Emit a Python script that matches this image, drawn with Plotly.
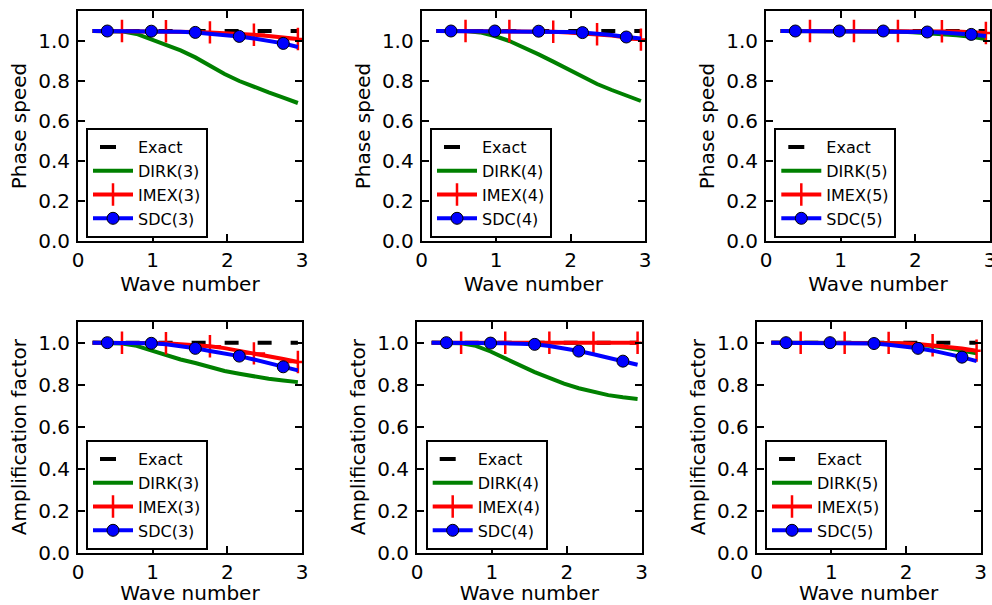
import plotly.graph_objects as go

# ---------------- data ----------------
wave_number = [0.196, 0.393, 0.589, 0.785, 0.982, 1.178, 1.374, 1.571,
               1.767, 1.963, 2.160, 2.356, 2.553, 2.749, 2.945]

exact_phase = [1.05] * 15
exact_amp = [1.0] * 15

dirk3_phase = [1.05, 1.05, 1.048, 1.035, 1.008, 0.98, 0.953, 0.918, 0.875, 0.835, 0.80, 0.77, 0.743, 0.717, 0.69]
imex3_phase = [1.05, 1.05, 1.05, 1.05, 1.05, 1.049, 1.047, 1.045, 1.043, 1.04, 1.036, 1.031, 1.025, 1.018, 1.01]
sdc3_phase = [1.05, 1.05, 1.05, 1.05, 1.049, 1.048, 1.046, 1.043, 1.038, 1.031, 1.023, 1.013, 1.001, 0.988, 0.97]

dirk4_phase = [1.05, 1.05, 1.05, 1.043, 1.025, 1.0, 0.968, 0.933, 0.897, 0.858, 0.82, 0.785, 0.755, 0.728, 0.70]
imex4_phase = [1.05, 1.05, 1.05, 1.05, 1.05, 1.05, 1.049, 1.048, 1.046, 1.043, 1.039, 1.034, 1.027, 1.018, 1.007]
sdc4_phase = [1.05, 1.05, 1.05, 1.05, 1.05, 1.05, 1.05, 1.049, 1.047, 1.045, 1.042, 1.037, 1.03, 1.02, 1.012]

dirk5_phase = [1.05, 1.05, 1.05, 1.05, 1.05, 1.05, 1.05, 1.049, 1.047, 1.044, 1.04, 1.035, 1.029, 1.021, 1.01]
imex5_phase = [1.05, 1.05, 1.05, 1.05, 1.05, 1.05, 1.05, 1.05, 1.05, 1.05, 1.05, 1.049, 1.047, 1.044, 1.04]
sdc5_phase = [1.05, 1.05, 1.05, 1.05, 1.05, 1.05, 1.05, 1.05, 1.049, 1.047, 1.045, 1.042, 1.038, 1.033, 1.025]

dirk3_amp = [1.0, 1.0, 0.996, 0.985, 0.962, 0.94, 0.92, 0.903, 0.882, 0.865, 0.852, 0.838, 0.828, 0.82, 0.812]
imex3_amp = [1.0, 1.0, 1.0, 1.0, 0.999, 0.997, 0.992, 0.988, 0.983, 0.974, 0.962, 0.949, 0.936, 0.922, 0.908]
sdc3_amp = [1.0, 1.0, 1.0, 0.999, 0.997, 0.992, 0.984, 0.973, 0.96, 0.949, 0.936, 0.92, 0.903, 0.885, 0.868]

dirk4_amp = [1.0, 1.0, 0.997, 0.985, 0.958, 0.925, 0.89, 0.86, 0.832, 0.805, 0.783, 0.765, 0.75, 0.74, 0.732]
imex4_amp = [1.0] * 15
sdc4_amp = [1.0, 1.0, 1.0, 1.0, 0.998, 0.997, 0.995, 0.992, 0.984, 0.973, 0.96, 0.945, 0.929, 0.912, 0.895]

dirk5_amp = [1.0, 1.0, 1.0, 1.0, 1.0, 1.0, 0.999, 0.999, 0.998, 0.995, 0.99, 0.984, 0.975, 0.963, 0.95]
imex5_amp = [1.0, 1.0, 1.0, 1.0, 1.0, 1.0, 1.0, 1.0, 0.999, 0.997, 0.994, 0.988, 0.981, 0.972, 0.962]
sdc5_amp = [1.0, 1.0, 1.0, 1.0, 1.0, 0.999, 0.998, 0.996, 0.99, 0.983, 0.973, 0.962, 0.948, 0.931, 0.912]

x_ticks = [0, 1, 2, 3]
y_ticks = [0.0, 0.2, 0.4, 0.6, 0.8, 1.0]
y_tick_labels = ["0.0", "0.2", "0.4", "0.6", "0.8", "1.0"]

panels = [
    ("Phase speed", exact_phase, dirk3_phase, imex3_phase, sdc3_phase, 3),
    ("Phase speed", exact_phase, dirk4_phase, imex4_phase, sdc4_phase, 4),
    ("Phase speed", exact_phase, dirk5_phase, imex5_phase, sdc5_phase, 5),
    ("Amplification factor", exact_amp, dirk3_amp, imex3_amp, sdc3_amp, 3),
    ("Amplification factor", exact_amp, dirk4_amp, imex4_amp, sdc4_amp, 4),
    ("Amplification factor", exact_amp, dirk5_amp, imex5_amp, sdc5_amp, 5),
]

# ---------------- layout (pixel geometry) ----------------
W, H = 992, 605
x_pix = [(78, 302), (421.7, 645), (766, 990), (78, 302), (417, 641.7), (756.7, 980.7)]
y_pix = [(11, 241), (11, 241), (11, 241), (321.7, 552.5), (321.7, 552.5), (321.7, 552.5)]
y_max = [1.15, 1.15, 1.15, 1.1, 1.1, 1.1]
legend_pix = [(86, 128), (430, 128), (774.3, 128), (86, 440), (425.7, 440), (765, 440)]

FONT = "DejaVu Sans"
GREEN = "#008000"
RED = "#ff0000"
BLUE = "#0000ff"

fig = go.Figure()
layout_updates = {}

for i, (ylabel, exact, dirk, imex, sdc, order) in enumerate(panels):
    n = i + 1
    xa = "x" if n == 1 else f"x{n}"
    ya = "y" if n == 1 else f"y{n}"
    leg = "legend" if n == 1 else f"legend{n}"

    common = dict(xaxis=xa, yaxis=ya, showlegend=False, hoverinfo="skip")
    fig.add_trace(go.Scatter(x=wave_number, y=exact, mode="lines",
                             line=dict(color="black", width=4, dash="14px,19px"), **common))
    fig.add_trace(go.Scatter(x=wave_number, y=dirk, mode="lines",
                             line=dict(color=GREEN, width=4), **common))
    fig.add_trace(go.Scatter(x=wave_number, y=imex, mode="lines",
                             line=dict(color=RED, width=4), **common))
    fig.add_trace(go.Scatter(x=wave_number[2::3], y=imex[2::3], mode="markers",
                             marker=dict(symbol="cross-thin", size=16, color=RED,
                                         line=dict(color=RED, width=2.5)), **common))
    fig.add_trace(go.Scatter(x=wave_number, y=sdc, mode="lines",
                             line=dict(color=BLUE, width=4), **common))
    fig.add_trace(go.Scatter(x=wave_number[1::3], y=sdc[1::3], mode="markers",
                             marker=dict(symbol="circle", size=12, color=BLUE,
                                         line=dict(color="black", width=1)), **common))

    # legend-only entries
    lcommon = dict(x=[None], y=[None], xaxis=xa, yaxis=ya, legend=leg, showlegend=True)
    fig.add_trace(go.Scatter(name="Exact", mode="lines",
                             line=dict(color="black", width=4, dash="0px,7px,16px,100px"), **lcommon))
    fig.add_trace(go.Scatter(name=f"DIRK({order})", mode="lines",
                             line=dict(color=GREEN, width=4), **lcommon))
    fig.add_trace(go.Scatter(name=f"IMEX({order})", mode="lines+markers",
                             line=dict(color=RED, width=4),
                             marker=dict(symbol="cross-thin", size=16, color=RED,
                                         line=dict(color=RED, width=2.5)), **lcommon))
    fig.add_trace(go.Scatter(name=f"SDC({order})", mode="lines+markers",
                             line=dict(color=BLUE, width=4),
                             marker=dict(symbol="circle", size=12, color=BLUE,
                                         line=dict(color="black", width=1)), **lcommon))

    x0, x1 = x_pix[i]
    yt, yb = y_pix[i]
    axis_style = dict(showline=True, linecolor="black", linewidth=2, mirror="ticks",
                      ticks="inside", ticklen=7, tickwidth=1.5, tickcolor="black",
                      showgrid=False, zeroline=False, automargin=False,
                      ticklabeloverflow="allow",
                      tickfont=dict(family=FONT, size=20, color="black"))
    layout_updates["xaxis" if n == 1 else f"xaxis{n}"] = dict(
        domain=[x0 / W, x1 / W], anchor=ya, range=[0, 3],
        tickvals=x_ticks, ticktext=[str(t) for t in x_ticks],
        title=dict(text="Wave number", font=dict(family=FONT, size=20, color="black"), standoff=2),
        **axis_style)
    layout_updates["yaxis" if n == 1 else f"yaxis{n}"] = dict(
        domain=[1 - yb / H, 1 - yt / H], anchor=xa, range=[0, y_max[i]],
        tickvals=y_ticks, ticktext=y_tick_labels, ticklabelstandoff=2,
        title=dict(text=ylabel, font=dict(family=FONT, size=20, color="black"), standoff=6),
        **axis_style)
    lx, lyt = legend_pix[i]
    layout_updates[leg] = dict(
        x=lx / W, y=1 - lyt / H, xanchor="left", yanchor="top",
        bordercolor="black", borderwidth=2, bgcolor="white",
        font=dict(family=FONT, size=16, color="black"),
        itemwidth=40, tracegroupgap=0, traceorder="normal")

fig.update_layout(width=W, height=H, margin=dict(l=0, r=0, t=0, b=0),
                  paper_bgcolor="white", plot_bgcolor="white",
                  font=dict(family=FONT, color="black"),
                  **layout_updates)

fig.write_html("out.html", config={"displayModeBar": False},
               post_script="document.body.style.margin='0';")
